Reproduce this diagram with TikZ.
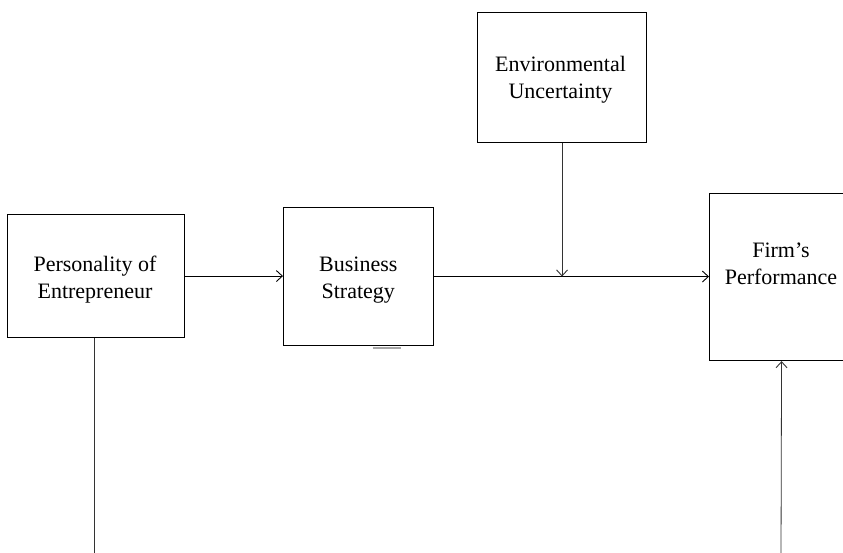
\documentclass[tikz,border=0pt]{standalone}
\usepackage{fontspec}
\setmainfont{Liberation Serif}
\usetikzlibrary{arrows.meta}
\begin{document}
\begin{tikzpicture}[x=1pt,y=-1pt,
  box/.style={draw, line width=1.1pt, inner sep=0pt, anchor=north west},
  lbl/.style={align=center, font=\fontsize{22}{27}\selectfont, inner sep=0pt, anchor=base},
  tipbarb/.tip={Straight Barb[length=6pt,width=11pt,line width=0.9pt]},
  link/.style={line width=1pt, -tipbarb},
  stem/.style={line width=0.8pt, draw=black!80}]
\useasboundingbox (0,0) rectangle (843,553);
\clip (0,0) rectangle (843,553);

% boxes
\node[box, minimum width=177pt, minimum height=123pt] (pe) at (7,214) {};
\node[box, minimum width=150pt, minimum height=138pt] (bs) at (283,207) {};
\node[box, minimum width=169pt, minimum height=130pt] (eu) at (477,12) {};
\node[box, minimum width=144pt, minimum height=167pt] (fp) at (709,193) {};

% box texts, placed by the baseline of their last line
\node[lbl] (pe-t) at (95,298.5) {Personality of\\Entrepreneur};
\node[lbl] (bs-t) at (358.3,298.5) {Business\\Strategy};
\node[lbl] (eu-t) at (560.5,99) {Environmental\\Uncertainty};
\node[lbl] (fp-t) at (781,284) {Firm’s\\Performance};

% free ends at the lower edge
\coordinate (pe-end) at (94.5,556);
\coordinate (fp-src) at (781,556);

% connectors
\draw[link] (pe.east) -- (pe.east -| bs.west);
\draw[link] (bs.east) -- (bs.east -| fp.west);
\draw[stem, -tipbarb] (eu.south) -- (eu.south |- bs.east);
\draw[stem] (pe.south -| pe-end) -- (pe-end);
\draw[stem, -tipbarb] (fp-src) -- (fp.south);

% faint stub under the strategy box
\draw[black!35, line width=1.4pt] ([xshift=14pt,yshift=-2pt]bs.south) -- ([xshift=42pt,yshift=-2pt]bs.south);
\end{tikzpicture}
\end{document}
